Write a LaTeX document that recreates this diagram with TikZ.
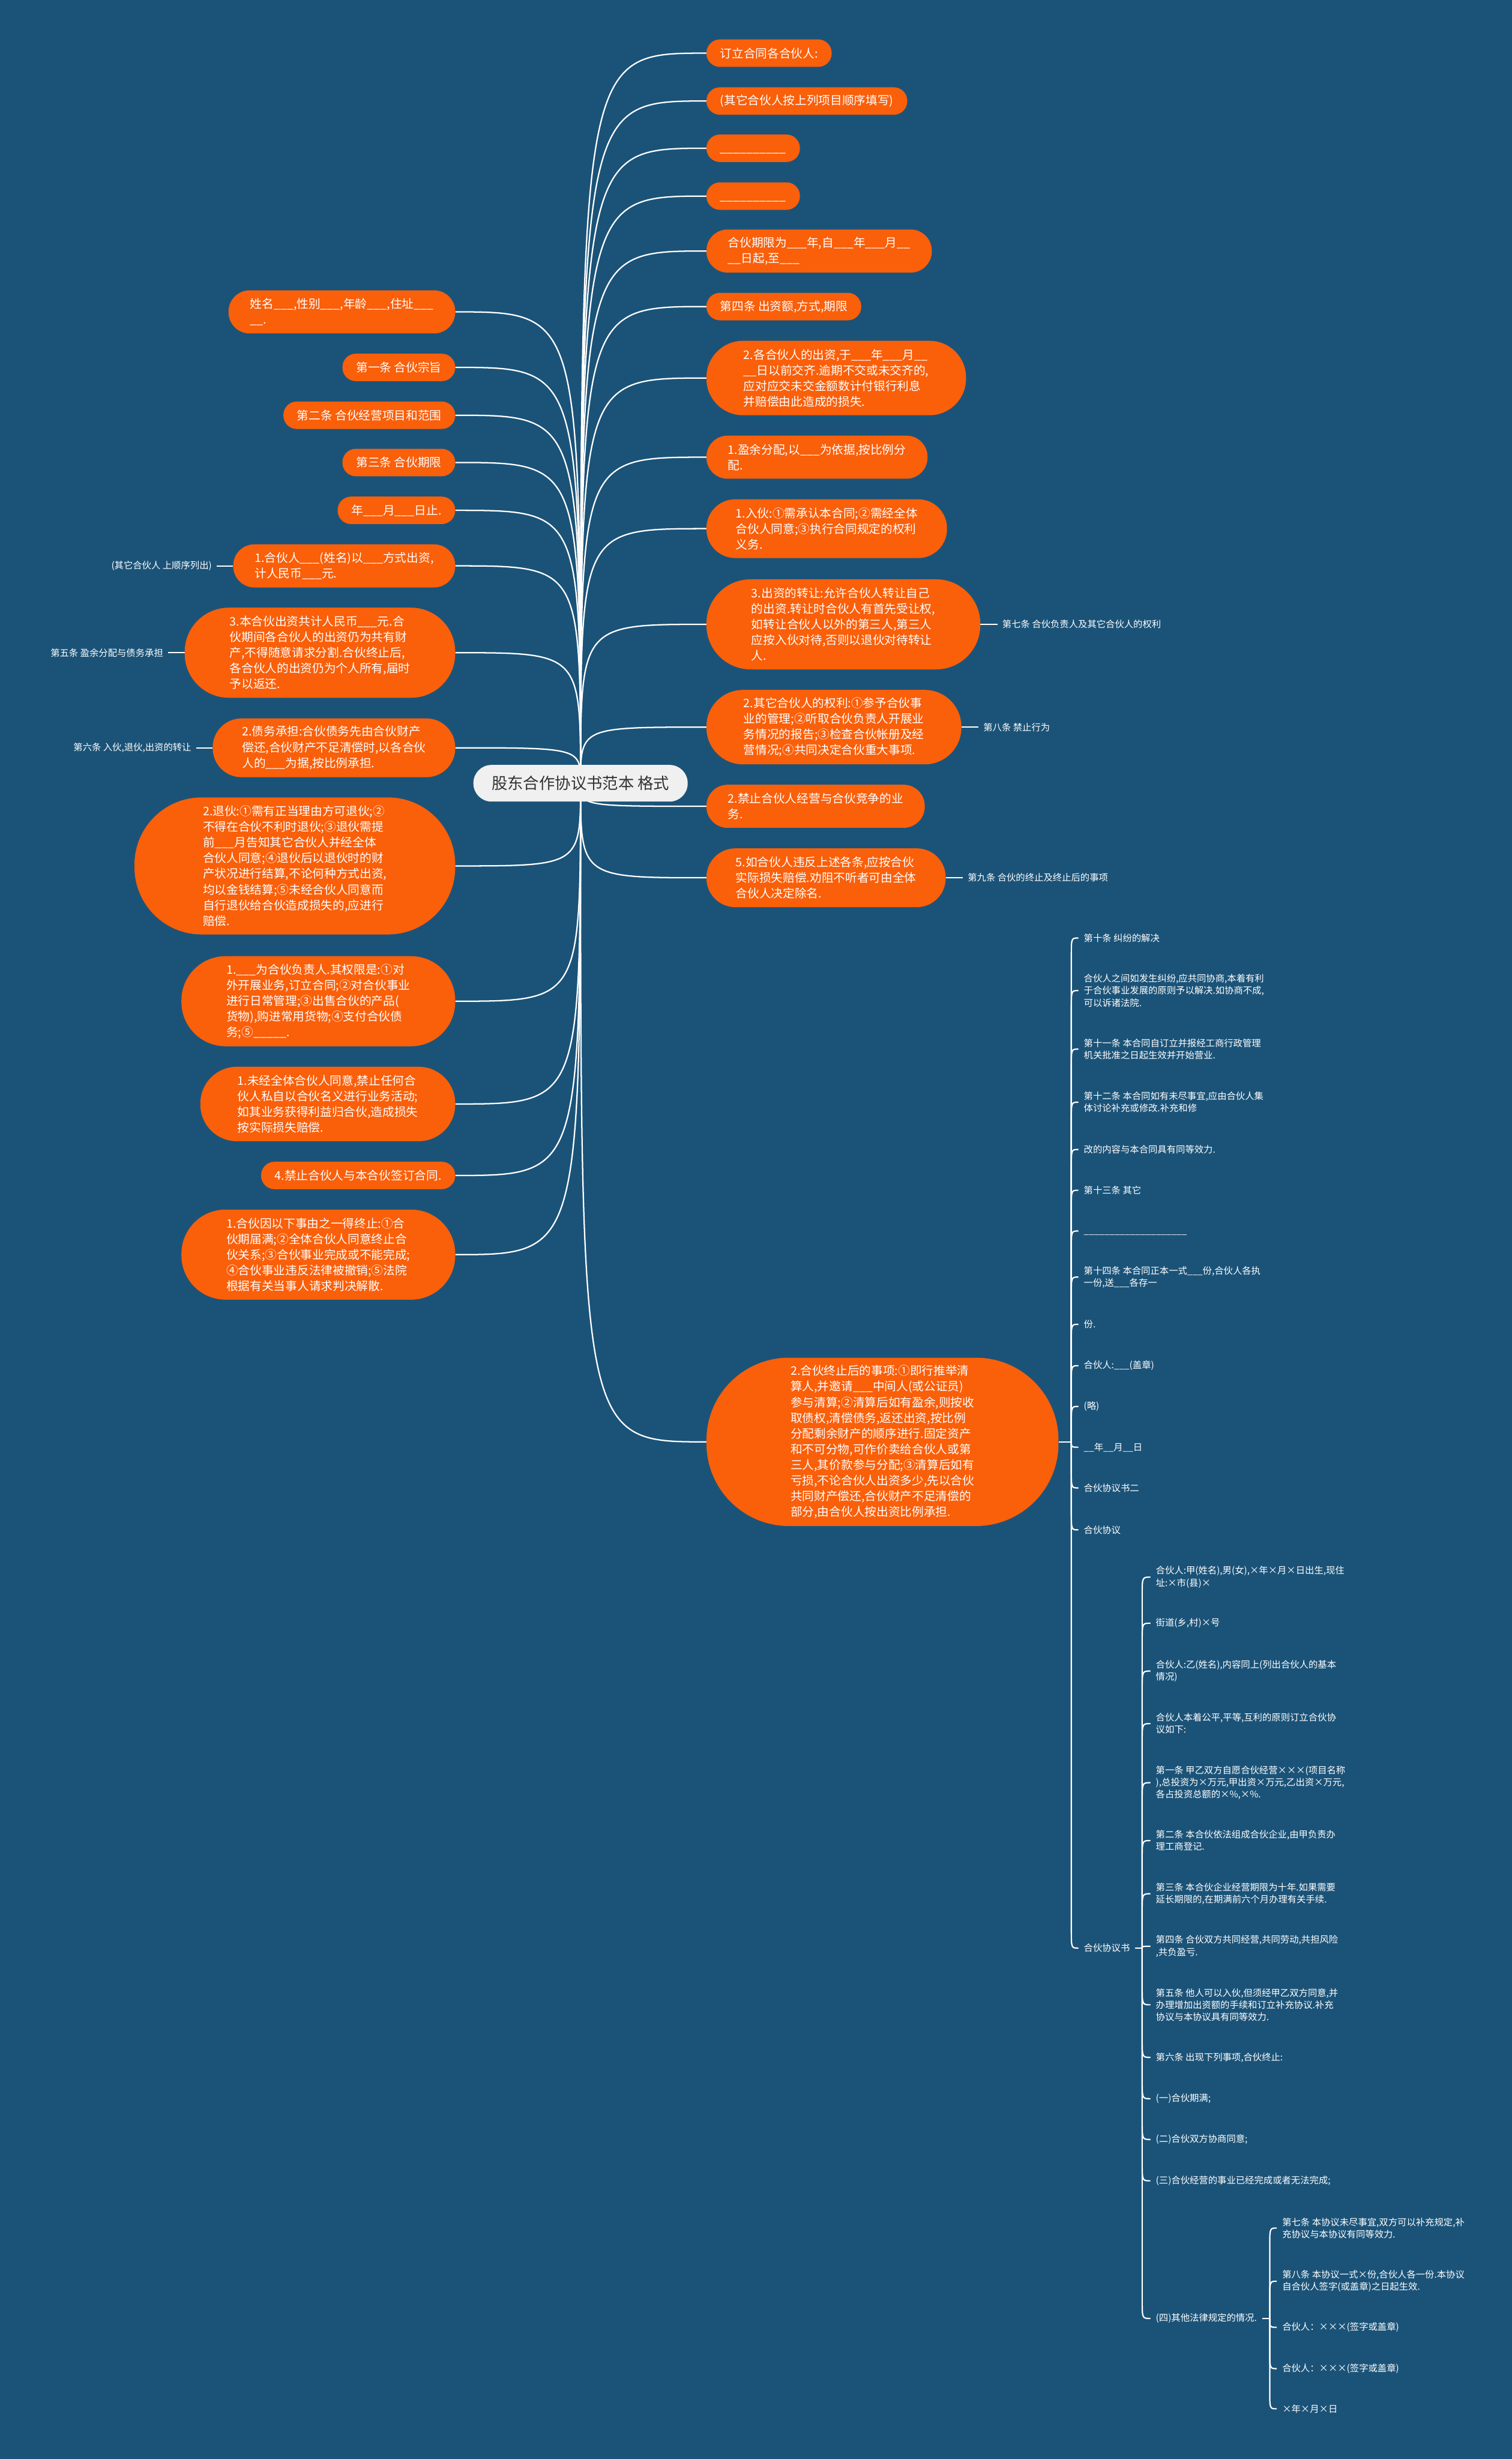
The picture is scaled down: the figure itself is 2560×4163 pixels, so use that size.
\documentclass[tikz,border=0pt]{standalone}
\usepackage{fontspec}
\setmainfont{Noto Sans CJK SC}
\definecolor{bgc}{RGB}{27,83,120}
\definecolor{orc}{RGB}{250,95,10}
\definecolor{cfill}{RGB}{240,240,240}
\definecolor{ctext}{RGB}{51,51,51}
\pgfdeclarelayer{back}
\pgfdeclarelayer{lines}
\pgfsetlayers{back,lines,main}
\begin{document}
\begin{tikzpicture}[x=1pt,y=-1pt,
  onode/.style={rectangle, fill=orc, text=white, align=left, inner xsep={#1*13.25pt+10pt}, inner ysep=2pt,
    rounded corners={#1*13pt+9.8pt},
    font=\fontsize{20}{26.5}\selectfont, minimum height={#1*26.5pt+20pt}},
  onode/.default=1,
  cnode/.style={rectangle, fill=cfill, text=ctext, inner xsep=31pt, minimum height=62pt, rounded corners=30.5pt,
    font=\fontsize{26.8}{32}\selectfont},
  lab/.style={text=white, font=\fontsize{15.6}{20.5}\selectfont, inner xsep=8pt, inner ysep=2pt},
  item/.style={text=white, font=\fontsize{15.6}{20.5}\selectfont, align=left, anchor=west, inner xsep=9pt, inner ysep=2pt},
  branch/.style={draw=white, line width=2.3pt},
  hook/.style={draw=white, line width=2.2pt},
  short/.style={draw=white, line width=2pt}]
\useasboundingbox (0,0) rectangle (2560,4163);
\begin{pgfonlayer}{back}
\fill[bgc] (0,0) rectangle (2560,4163);
\end{pgfonlayer}

\node[cnode] (C) at (983,1326) {股东合作协议书范本 格式};

% right branches
\node[onode, anchor=west] (r1) at (1196,90) {订立合同各合伙人:};
\node[onode, anchor=west] (r2) at (1196,171) {(其它合伙人按上列项目顺序填写)};
\node[onode, anchor=west] (r3) at (1196,251) {\vphantom{订}\_\_\_\_\_\_\_\_\_\_};
\node[onode, anchor=west] (r4) at (1196,332) {\vphantom{订}\_\_\_\_\_\_\_\_\_\_};
\node[onode=2, anchor=west] (r5) at (1196,425) {合伙期限为\_\_\_年,自\_\_\_年\_\_\_月\_\_\\\_\_日起,至\_\_\_};
\node[onode, anchor=west] (r6) at (1196,519) {第四条 出资额,方式,期限};
\node[onode=4, anchor=west] (r7) at (1196,640) {2.各合伙人的出资,于\_\_\_年\_\_\_月\_\_\\\_\_日以前交齐.逾期不交或未交齐的,\\应对应交未交金额数计付银行利息\\并赔偿由此造成的损失.};
\node[onode=2, anchor=west] (r8) at (1196,774) {1.盈余分配,以\_\_\_为依据,按比例分\\配.};
\node[onode=3, anchor=west] (r9) at (1196,895) {1.入伙:①需承认本合同;②需经全体\\合伙人同意;③执行合同规定的权利\\义务.};
\node[onode=5, anchor=west] (r10) at (1196,1057) {3.出资的转让:允许合伙人转让自己\\的出资.转让时合伙人有首先受让权,\\如转让合伙人以外的第三人,第三人\\应按入伙对待,否则以退伙对待转让\\人.};
\node[onode=4, anchor=west] (r11) at (1196,1231) {2.其它合伙人的权利:①参予合伙事\\业的管理;②听取合伙负责人开展业\\务情况的报告;③检查合伙帐册及经\\营情况;④共同决定合伙重大事项.};
\node[onode=2, anchor=west] (r12) at (1196,1365) {2.禁止合伙人经营与合伙竞争的业\\务.};
\node[onode=3, anchor=west] (r13) at (1196,1486) {5.如合伙人违反上述各条,应按合伙\\实际损失赔偿.劝阻不听者可由全体\\合伙人决定除名.};
\node[onode=10, anchor=west] (r14) at (1196,2441) {2.合伙终止后的事项:①即行推举清\\算人,并邀请\_\_\_中间人(或公证员)\\参与清算;②清算后如有盈余,则按收\\取债权,清偿债务,返还出资,按比例\\分配剩余财产的顺序进行.固定资产\\和不可分物,可作价卖给合伙人或第\\三人,其价款参与分配;③清算后如有\\亏损,不论合伙人出资多少,先以合伙\\共同财产偿还,合伙财产不足清偿的\\部分,由合伙人按出资比例承担.};

% left branches
\node[onode=2, anchor=east] (L1) at (771,528) {姓名\_\_\_,性别\_\_\_,年龄\_\_\_,住址\_\_\_\\\_\_.};
\node[onode, anchor=east] (L2) at (771,622) {第一条 合伙宗旨};
\node[onode, anchor=east] (L3) at (771,703) {第二条 合伙经营项目和范围};
\node[onode, anchor=east] (L4) at (771,783) {第三条 合伙期限};
\node[onode, anchor=east] (L5) at (771,864) {年\_\_\_月\_\_\_日止.};
\node[onode=2, anchor=east] (L6) at (771,958) {1.合伙人\_\_\_(姓名)以\_\_\_方式出资,\\计人民币\_\_\_元.};
\node[onode=5, anchor=east] (L7) at (771,1105) {3.本合伙出资共计人民币\_\_\_元.合\\伙期间各合伙人的出资仍为共有财\\产,不得随意请求分割.合伙终止后,\\各合伙人的出资仍为个人所有,届时\\予以返还.};
\node[onode=3, anchor=east] (L8) at (771,1266) {2.债务承担:合伙债务先由合伙财产\\偿还,合伙财产不足清偿时,以各合伙\\人的\_\_\_为据,按比例承担.};
\node[onode=8, anchor=east] (L9) at (771,1466) {2.退伙:①需有正当理由方可退伙;②\\不得在合伙不利时退伙;③退伙需提\\前\_\_\_月告知其它合伙人并经全体\\合伙人同意;④退伙后以退伙时的财\\产状况进行结算,不论何种方式出资,\\均以金钱结算;⑤未经合伙人同意而\\自行退伙给合伙造成损失的,应进行\\赔偿.};
\node[onode=5, anchor=east] (L10) at (771,1695) {1.\_\_\_为合伙负责人.其权限是:①对\\外开展业务,订立合同;②对合伙事业\\进行日常管理;③出售合伙的产品(\\货物),购进常用货物;④支付合伙债\\务;⑤\_\_\_\_\_.};
\node[onode=4, anchor=east] (L11) at (771,1869) {1.未经全体合伙人同意,禁止任何合\\伙人私自以合伙名义进行业务活动;\\如其业务获得利益归合伙,造成损失\\按实际损失赔偿.};
\node[onode, anchor=east] (L12) at (771,1990) {4.禁止合伙人与本合伙签订合同.};
\node[onode=5, anchor=east] (L13) at (771,2124) {1.合伙因以下事由之一得终止:①合\\伙期届满;②全体合伙人同意终止合\\伙关系;③合伙事业完成或不能完成;\\④合伙事业违反法律被撤销;⑤法院\\根据有关当事人请求判决解散.};

% side labels
\node[lab, anchor=west] (t7) at ([xshift=29pt]r10.east) {第七条 合伙负责人及其它合伙人的权利};
\node[lab, anchor=west] (t8) at ([xshift=29pt]r11.east) {第八条 禁止行为};
\node[lab, anchor=west] (t9) at ([xshift=29pt]r13.east) {第九条 合伙的终止及终止后的事项};
\node[lab, anchor=east] (t0) at ([xshift=-28pt]L6.west) {(其它合伙人 上顺序列出)};
\node[lab, anchor=east] (t5) at ([xshift=-28pt]L7.west) {第五条 盈余分配与债务承担};
\node[lab, anchor=east] (t6) at ([xshift=-28pt]L8.west) {第六条 入伙,退伙,出资的转让};

% list group 1
\coordinate (J1) at (1814,2441);
\node[item] (c1) at (1826,1588) {第十条 纠纷的解决};
\node[item] (c2) at (1826,1677) {合伙人之间如发生纠纷,应共同协商,本着有利\\于合伙事业发展的原则予以解决.如协商不成,\\可以诉诸法院.};
\node[item] (c3) at (1826,1776) {第十一条 本合同自订立并报经工商行政管理\\机关批准之日起生效并开始营业.};
\node[item] (c4) at (1826,1866) {第十二条 本合同如有未尽事宜,应由合伙人集\\体讨论补充或修改.补充和修};
\node[item] (c5) at (1826,1946) {改的内容与本合同具有同等效力.};
\node[item] (c6) at (1826,2015) {第十三条 其它};
\node[item] (c7) at (1826,2084) {\vphantom{合}\_\_\_\_\_\_\_\_\_\_\_\_\_\_\_\_\_\_\_\_};
\node[item] (c8) at (1826,2162) {第十四条 本合同正本一式\_\_\_份,合伙人各执\\一份,送\_\_\_各存一};
\node[item] (c9) at (1826,2242) {份.};
\node[item] (c10) at (1826,2312) {合伙人:\_\_\_(盖章)};
\node[item] (c11) at (1826,2381) {(略)};
\node[item] (c12) at (1826,2450) {\_\_年\_\_月\_\_日};
\node[item] (c13) at (1826,2519) {合伙协议书二};
\node[item] (c14) at (1826,2590) {合伙协议};
\node[item] (c15) at (1826,3298) {合伙协议书};

% list group 2
\coordinate (J2) at (1934,3298);
\node[item] (d1) at (1948,2670) {合伙人:甲(姓名),男(女),×年×月×日出生,现住\\址:×市(县)×};
\node[item] (d2) at (1948,2748) {街道(乡,村)×号};
\node[item] (d3) at (1948,2829) {合伙人:乙(姓名),内容同上(列出合伙人的基本\\情况)};
\node[item] (d4) at (1948,2918) {合伙人本着公平,平等,互利的原则订立合伙协\\议如下:};
\node[item] (d5) at (1948,3018) {第一条 甲乙双方自愿合伙经营×××(项目名称\\),总投资为×万元,甲出资×万元,乙出资×万元,\\各占投资总额的×\%,×\%.};
\node[item] (d6) at (1948,3116) {第二条 本合伙依法组成合伙企业,由甲负责办\\理工商登记.};
\node[item] (d7) at (1948,3206) {第三条 本合伙企业经营期限为十年.如果需要\\延长期限的,在期满前六个月办理有关手续.};
\node[item] (d8) at (1948,3295) {第四条 合伙双方共同经营,共同劳动,共担风险\\,共负盈亏.};
\node[item] (d9) at (1948,3394) {第五条 他人可以入伙,但须经甲乙双方同意,并\\办理增加出资额的手续和订立补充协议.补充\\协议与本协议具有同等效力.};
\node[item] (d10) at (1948,3483) {第六条 出现下列事项,合伙终止:};
\node[item] (d11) at (1948,3553) {(一)合伙期满;};
\node[item] (d12) at (1948,3622) {(二)合伙双方协商同意;};
\node[item] (d13) at (1948,3692) {(三)合伙经营的事业已经完成或者无法完成;};
\node[item] (d14) at (1948,3925) {(四)其他法律规定的情况.};

% list group 3
\coordinate (J3) at (2150,3925);
\node[item] (e1) at (2162,3772) {第七条 本协议未尽事宜,双方可以补充规定,补\\充协议与本协议有同等效力.};
\node[item] (e2) at (2162,3862) {第八条 本协议一式×份,合伙人各一份.本协议\\自合伙人签字(或盖章)之日起生效.};
\node[item] (e3) at (2162,3940) {合伙人：×××(签字或盖章)};
\node[item] (e4) at (2162,4010) {合伙人：×××(签字或盖章)};
\node[item] (e5) at (2162,4078) {×年×月×日};

\begin{pgfonlayer}{lines}
\foreach \n in {r1,r2,r3,r4,r5,r6,r7,r8,r9,r10,r11,r12,r13,r14}
  \draw[branch] (C.center) .. controls (C.center |- \n.west) .. (\n.west);
\foreach \n in {L1,L2,L3,L4,L5,L6,L7,L8,L9,L10,L11,L12,L13}
  \draw[branch] (C.center) .. controls (C.center |- \n.east) .. (\n.east);
\draw[short] (r10.east) -- (t7.west);
\draw[short] (r11.east) -- (t8.west);
\draw[short] (r13.east) -- (t9.west);
\draw[short] (L6.west) -- (t0.east);
\draw[short] (L7.west) -- (t5.east);
\draw[short] (L8.west) -- (t6.east);
% group 1
\draw[hook] (r14.east) -- (J1);
\foreach \n in {c1,c2,c3,c4,c5,c6,c7,c8,c9,c10,c11}
  \draw[hook] (J1) -- ([yshift=-30pt]J1 |- \n.west) .. controls (J1 |- \n.west) .. (\n.west);
\foreach \n in {c13,c14,c15}
  \draw[hook] (J1) -- ([yshift=30pt]J1 |- \n.west) .. controls (J1 |- \n.west) .. (\n.west);
\draw[hook] (J1) .. controls (J1 |- c12.west) .. (c12.west);
% group 2
\draw[hook] (c15.east) -- (J2);
\foreach \n in {d1,d2,d3,d4,d5,d6,d7}
  \draw[hook] (J2) -- ([yshift=-30pt]J2 |- \n.west) .. controls (J2 |- \n.west) .. (\n.west);
\foreach \n in {d9,d10,d11,d12,d13,d14}
  \draw[hook] (J2) -- ([yshift=30pt]J2 |- \n.west) .. controls (J2 |- \n.west) .. (\n.west);
\draw[hook] (J2) .. controls (J2 |- d8.west) .. (d8.west);
% group 3
\draw[hook] (d14.east) -- (J3);
\foreach \n in {e1,e2}
  \draw[hook] (J3) -- ([yshift=-30pt]J3 |- \n.west) .. controls (J3 |- \n.west) .. (\n.west);
\foreach \n in {e4,e5}
  \draw[hook] (J3) -- ([yshift=30pt]J3 |- \n.west) .. controls (J3 |- \n.west) .. (\n.west);
\draw[hook] (J3) .. controls (J3 |- e3.west) .. (e3.west);
\end{pgfonlayer}
\end{tikzpicture}
\end{document}
